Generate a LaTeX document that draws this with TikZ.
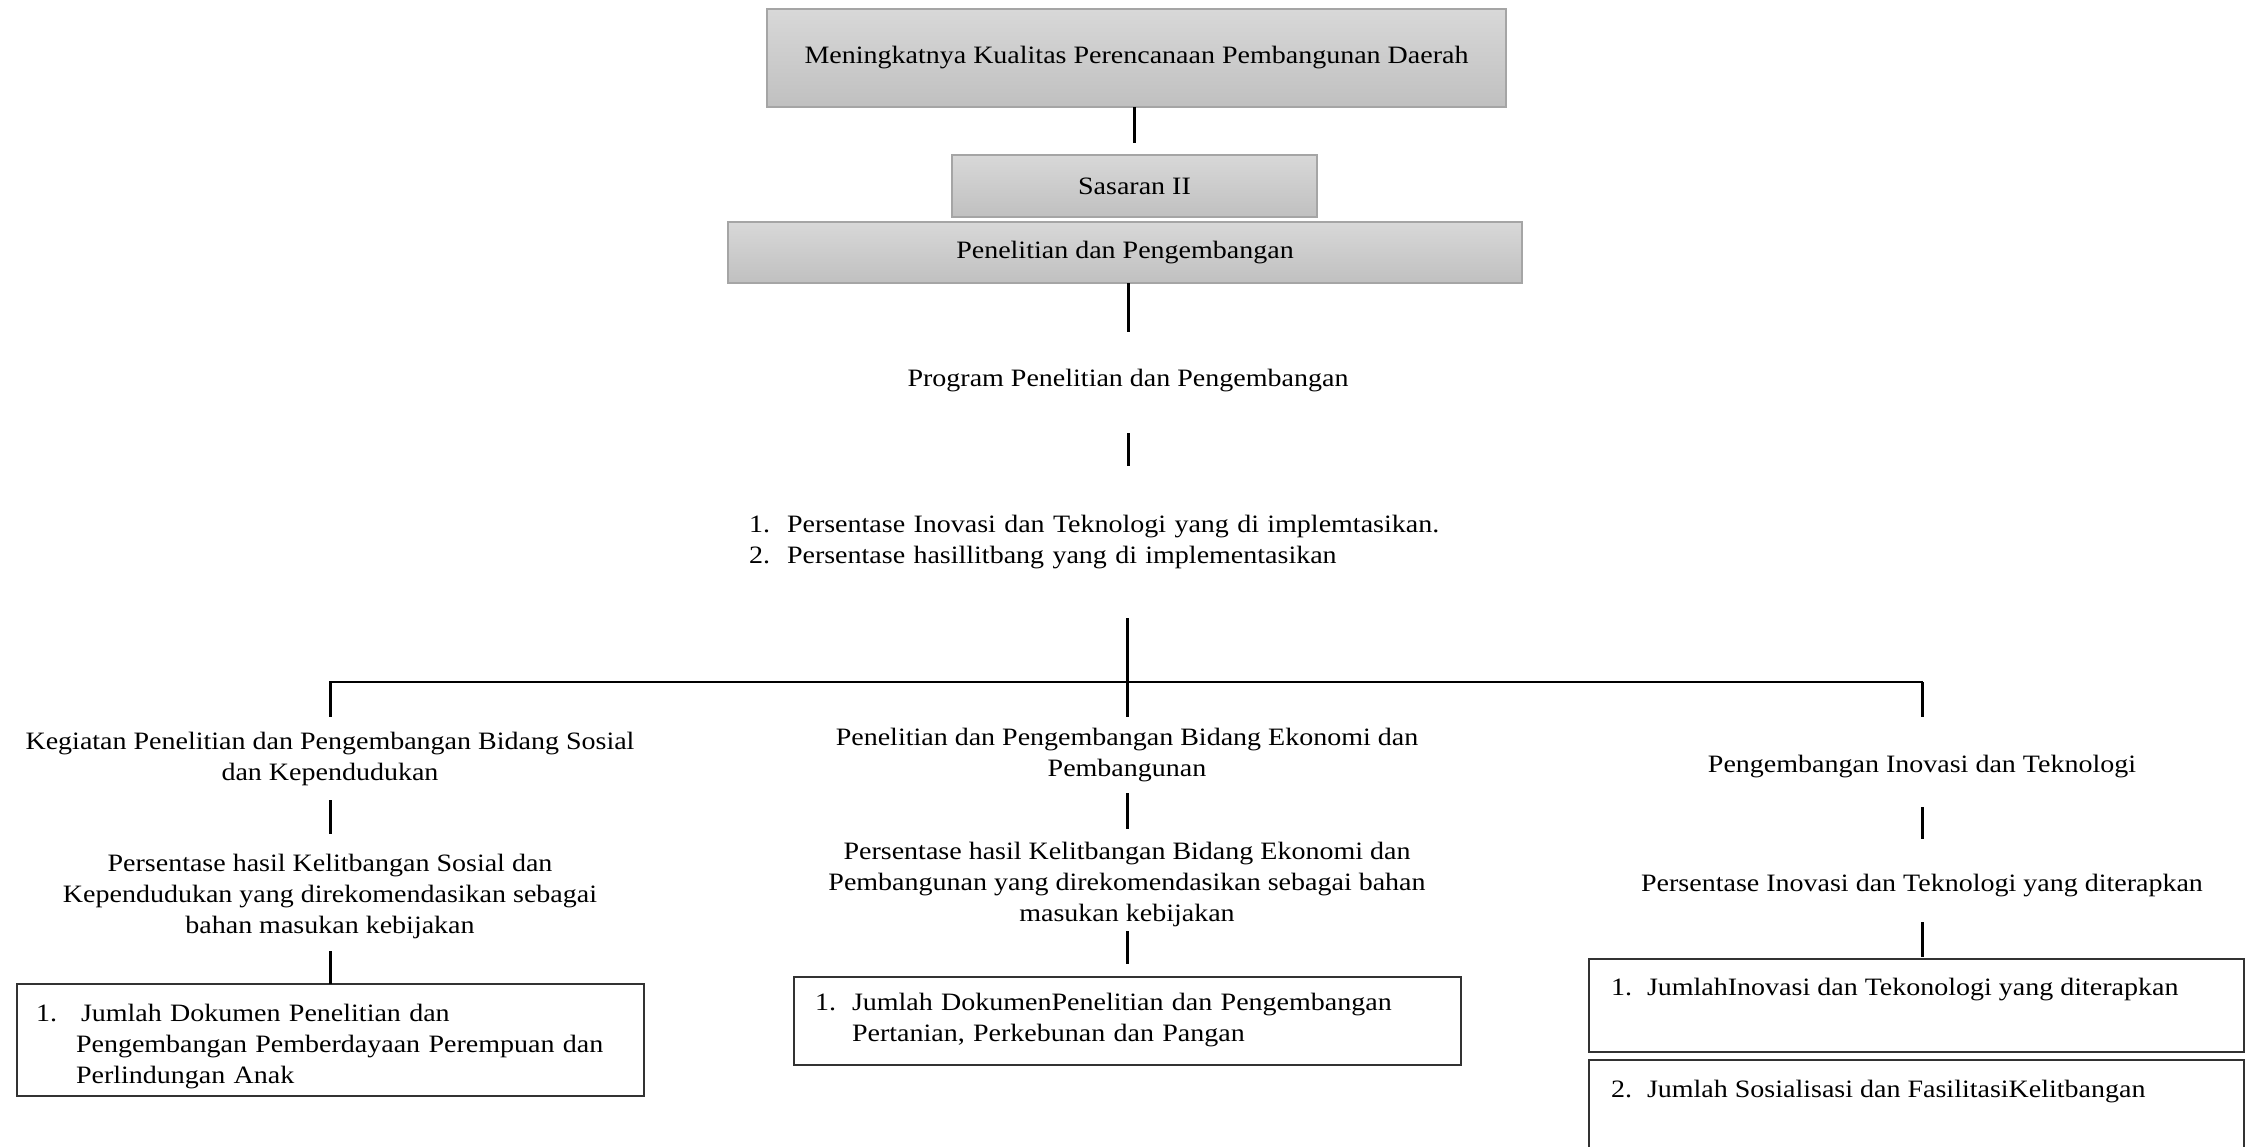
\documentclass[tikz,border=0pt]{standalone}
\usepackage{fontspec}
\setmainfont{Liberation Serif}[FakeStretch=1.12]
\usetikzlibrary{calc}
\definecolor{boxtop}{RGB}{216,216,216}
\definecolor{boxbot}{RGB}{192,192,192}
\definecolor{boxedge}{RGB}{165,165,165}
\definecolor{itemedge}{RGB}{50,50,50}
\begin{document}
\begin{tikzpicture}[x=1pt,y=-1pt,
  every node/.style={font=\fontsize{25}{31}\selectfont, inner sep=0pt, outer sep=0pt},
  hdr/.style={draw=boxedge, line width=1.2pt, top color=boxtop, bottom color=boxbot},
  txt/.style={align=center},
  itembox/.style={draw=itemedge, line width=1.5pt, fill=white},
  itemtext/.style={anchor=base west, align=left},
  conn/.style={line width=3pt, black},
  bar/.style={line width=2.5pt, black, line cap=rect}]

\useasboundingbox (0,0) rectangle (2256,1146);
\clip (0,0) rectangle (2256,1146);

% ---- top of the hierarchy ----
\node[hdr, minimum width=739pt, minimum height=98pt] (goal) at (1136.5,58)
  {Meningkatnya Kualitas Perencanaan Pembangunan Daerah};
\node[hdr, minimum width=365pt, minimum height=62pt] (target) at (1134.5,186) {Sasaran II};
\node[hdr, minimum width=794pt, minimum height=61pt] (field) at (1125,252.5) {Penelitian dan Pengembangan};

\node[txt, minimum height=101pt] (prog) at (1128,381) {Program Penelitian dan Pengembangan};

\node[minimum height=152pt, text width=756pt, align=left] (list) at (1127,542)
  {\makebox[38pt][l]{1.}Persentase Inovasi dan Teknologi yang di implemtasikan.\\
   \makebox[38pt][l]{2.}Persentase hasillitbang yang di implementasikan};

\draw[conn, shorten >=12pt] (goal.south -| target.north) -- (target.north);
\draw[conn, shorten >=-1.5pt] (field.south -| prog.north) -- (prog.north);
\draw[conn, shorten <=1.5pt] (prog.south) -- (prog.south |- list.north);

% ---- three branches ----
\coordinate (hub) at (1127,682);
\node[txt, minimum height=83pt] (social) at (330,758.5)
  {Kegiatan Penelitian dan Pengembangan Bidang Sosial\\dan Kependudukan};
\node[txt, minimum height=76pt] (econ) at (1127,755)
  {Penelitian dan Pengembangan Bidang Ekonomi dan\\Pembangunan};
\node[txt, minimum height=100pt] (innov) at (1922,767)
  {Pengembangan Inovasi dan Teknologi};

\draw[conn] (list.south) -- (econ.north);
\draw[bar] (social.north |- hub) -- (innov.north |- hub);
\draw[conn] (social.north |- hub) -- (social.north);
\draw[conn] (innov.north |- hub) -- (innov.north);

% ---- indicators ----
\node[txt, minimum height=124pt] (socind) at (330,896)
  {Persentase hasil Kelitbangan Sosial dan\\Kependudukan yang direkomendasikan sebagai\\bahan masukan kebijakan};
\node[txt, minimum height=110pt] (ecoind) at (1127,884)
  {Persentase hasil Kelitbangan Bidang Ekonomi dan\\Pembangunan yang direkomendasikan sebagai bahan\\masukan kebijakan};
\node[txt, minimum height=94pt] (innind) at (1922,886)
  {Persentase Inovasi dan Teknologi yang diterapkan};

\draw[conn] (social.south) -- (socind.north);
\draw[conn] (econ.south) -- (ecoind.north);
\draw[conn, shorten <=-10pt] (innov.south) -- (innind.north);

% ---- activity boxes ----
\node[itembox, minimum width=627pt, minimum height=112pt] (socbox) at (330.5,1040) {};
\node[itembox, minimum width=667pt, minimum height=88pt] (ecobox) at (1127.5,1021) {};
\node[itembox, minimum width=655pt, minimum height=93pt] (innbox) at (1916.5,1005.5) {};
\node[itembox, minimum width=655pt, minimum height=140pt] (facbox) at (1916.5,1130) {};

\draw[conn, shorten <=-7pt] (socind.south) -- (socind.south |- socbox.north);
\draw[conn, shorten <=-8pt, shorten >=13pt] (ecoind.south) -- (ecoind.south |- ecobox.north);
\draw[conn, shorten <=-11pt, shorten >=2pt] (innind.south) -- (innind.south |- innbox.north);

\node[itemtext] (socnum) at ($(socbox.north west)+(19,37)$) {1.};
\node[itemtext, text width=560pt] (socitem) at ($(socbox.north west)+(59,37)$)
  {\hspace*{5pt}Jumlah Dokumen Penelitian dan\\Pengembangan Pemberdayaan Perempuan dan\\Perlindungan Anak};

\node[itemtext] (econum) at ($(ecobox.north west)+(21,33)$) {1.};
\node[itemtext, text width=590pt] (ecoitem) at ($(ecobox.north west)+(58,33)$)
  {Jumlah DokumenPenelitian dan Pengembangan\\Pertanian, Perkebunan dan Pangan};

\node[itemtext] (innnum) at ($(innbox.north west)+(22,36)$) {1.};
\node[itemtext] (innitem) at ($(innbox.north west)+(58,36)$)
  {JumlahInovasi dan Tekonologi yang diterapkan};

\node[itemtext] (facnum) at ($(facbox.north west)+(22,37)$) {2.};
\node[itemtext] (facitem) at ($(facbox.north west)+(58,37)$)
  {Jumlah Sosialisasi dan FasilitasiKelitbangan};
\end{tikzpicture}
\end{document}
